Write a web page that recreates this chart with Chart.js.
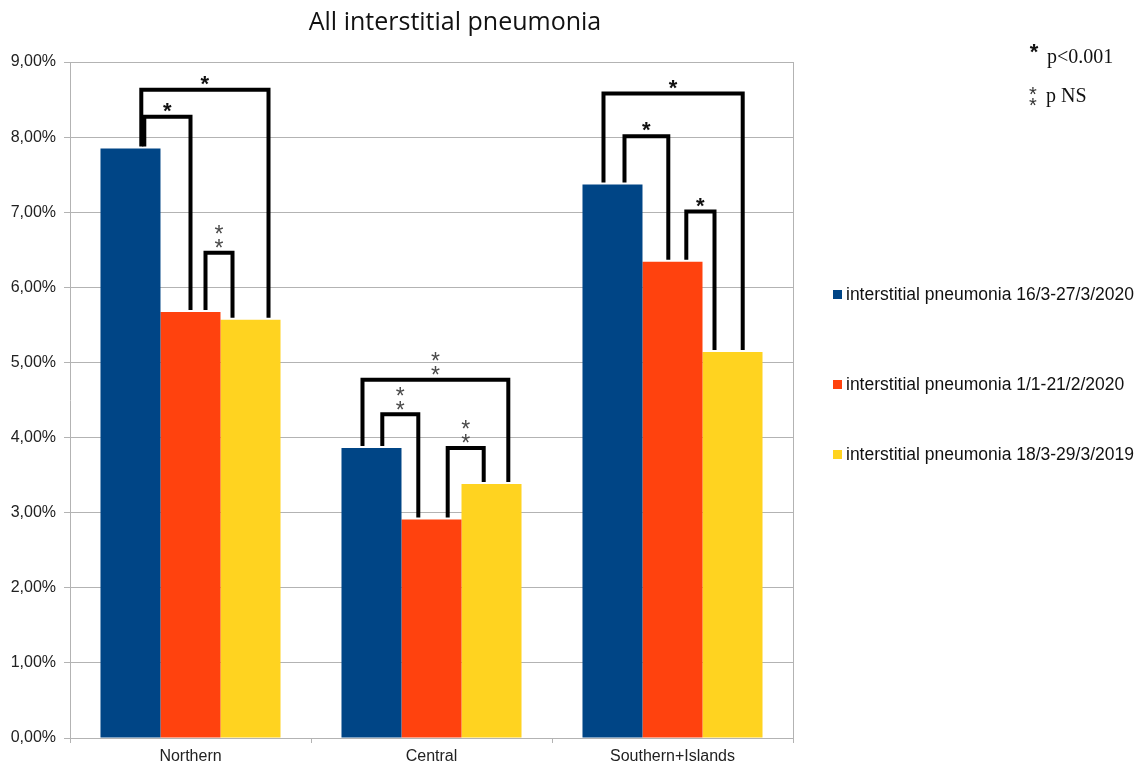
<!DOCTYPE html>
<html>
<head>
<meta charset="utf-8">
<script src="https://cdn.jsdelivr.net/npm/chart.js@4/dist/chart.umd.min.js"></script>
<style>
  body { margin: 0; background: #fff; }
  #wrap { width: 1143px; height: 764px; position: relative; }
</style>
</head>
<body>
<div id="wrap"><canvas id="pneumoniaChart"></canvas></div>
<script>
// chart values (percent)
const regions = ['Northern', 'Central', 'Southern+Islands'];
const march2020 = [7.85, 3.86, 7.37];
const janFeb2020 = [5.67, 2.91, 6.34];
const march2019 = [5.57, 3.38, 5.14];
const seriesNames = [
    'interstitial pneumonia 16/3-27/3/2020',
    'interstitial pneumonia 1/1-21/2/2020',
    'interstitial pneumonia 18/3-29/3/2019'
];
const seriesColors = ['#004586', '#ff420e', '#ffd320'];

// significance brackets: region, from/to series, bracket level (percent), sig
const brackets = [
    { cat: 0, from: 0, to: 2, level: 8.63, sig: 1, a: 0.68, b: 0.80 },
    { cat: 0, from: 0, to: 1, level: 8.27, sig: 1, a: 0.73, b: 0.50 },
    { cat: 0, from: 1, to: 2, level: 6.46, sig: 2, a: 0.75, b: 0.20 },
    { cat: 1, from: 0, to: 2, level: 4.77, sig: 2, a: 0.35, b: 0.78 },
    { cat: 1, from: 0, to: 1, level: 4.31, sig: 2, a: 0.68, b: 0.28 },
    { cat: 1, from: 1, to: 2, level: 3.86, sig: 2, a: 0.77, b: 0.37 },
    { cat: 2, from: 0, to: 2, level: 8.58, sig: 1, a: 0.35, b: 0.67 },
    { cat: 2, from: 0, to: 1, level: 8.01, sig: 1, a: 0.70, b: 0.43 },
    { cat: 2, from: 1, to: 2, level: 7.01, sig: 1, a: 0.73, b: 0.20 }
];

const gridGrey = '#b3b3b3';

function drawStar(ctx, x, y, sig) {
    if (sig === 1) {
        ctx.fillStyle = '#111';
        ctx.font = 'bold 22px "Liberation Sans"';
        ctx.fillText('*', x, y + 5);
    } else {
        ctx.fillStyle = '#4a4a4a';
        ctx.font = '23px "Liberation Sans"';
        ctx.fillText('*', x, y + 7);
        ctx.fillText('*', x, y - 7);
    }
}

// brackets, title, legend and p-value key
const extrasPlugin = {
    id: 'extras',
    afterDatasetsDraw(chart) {
        const ctx = chart.ctx;
        const yScale = chart.scales.y;
        ctx.save();
        ctx.strokeStyle = '#000';
        ctx.lineWidth = 4;
        ctx.lineJoin = 'miter';
        brackets.forEach(br => {
            const barA = chart.getDatasetMeta(br.from).data[br.cat];
            const barB = chart.getDatasetMeta(br.to).data[br.cat];
            const xa = barA.x - barA.width / 2 + br.a * barA.width;
            const xb = barB.x - barB.width / 2 + br.b * barB.width;
            const yTop = yScale.getPixelForValue(br.level);
            ctx.beginPath();
            ctx.moveTo(xa, barA.y - 2);
            ctx.lineTo(xa, yTop);
            ctx.lineTo(xb, yTop);
            ctx.lineTo(xb, barB.y - 2);
            ctx.stroke();
        });
        ctx.textAlign = 'center';
        ctx.textBaseline = 'middle';
        brackets.forEach(br => {
            const barA = chart.getDatasetMeta(br.from).data[br.cat];
            const barB = chart.getDatasetMeta(br.to).data[br.cat];
            const xa = barA.x - barA.width / 2 + br.a * barA.width;
            const xb = barB.x - barB.width / 2 + br.b * barB.width;
            const yTop = yScale.getPixelForValue(br.level);
            drawStar(ctx, (xa + xb) / 2, yTop - 10, br.sig);
        });
        ctx.restore();
    },
    afterDraw(chart) {
        const ctx = chart.ctx;
        ctx.save();
        // title
        ctx.fillStyle = '#111';
        ctx.textAlign = 'center';
        ctx.textBaseline = 'middle';
        ctx.font = '25px "Open Sans"';
        ctx.fillText('All interstitial pneumonia', 455, 23);

        // legend
        const legendY = [295, 385, 455];
        ctx.textAlign = 'left';
        ctx.font = '17.5px "Liberation Sans"';
        seriesNames.forEach((name, i) => {
            ctx.fillStyle = seriesColors[i];
            ctx.fillRect(833, legendY[i] - 5, 9, 9);
            ctx.fillStyle = '#111';
            ctx.fillText(name, 846, legendY[i]);
        });

        // p-value key
        ctx.font = '20px "Liberation Serif"';
        ctx.fillText('p<0.001', 1047, 58);
        ctx.fillText('p NS', 1046, 97);
        ctx.textAlign = 'center';
        ctx.font = 'bold 22px "Liberation Sans"';
        ctx.fillText('*', 1034, 53);
        ctx.fillStyle = '#333';
        ctx.font = '20px "Liberation Sans"';
        ctx.fillText('*', 1033, 95);
        ctx.fillText('*', 1033, 106);
        ctx.restore();
    }
};

const ctx = document.getElementById('pneumoniaChart').getContext('2d');
const pneumoniaChart = new Chart(ctx, {
    type: 'bar',
    data: {
        labels: regions,
        datasets: [march2020, janFeb2020, march2019].map((vals, i) => ({
            label: seriesNames[i],
            data: vals,
            backgroundColor: seriesColors[i],
            borderWidth: 0,
            categoryPercentage: 0.747,
            barPercentage: 1.0
        }))
    },
    options: {
        responsive: true,
        maintainAspectRatio: false,
        animation: false,
        layout: { padding: { top: 62, right: 350, bottom: 0, left: 0 } },
        plugins: {
            legend: { display: false },
            title: { display: false },
            tooltip: { enabled: false }
        },
        scales: {
            x: {
                afterFit(scale) { scale.height = 26; },
                grid: {
                    offset: true,
                    color: c => c.type === 'scale' ? gridGrey : 'rgba(0,0,0,0)',
                    tickColor: gridGrey,
                    tickLength: 5
                },
                border: { color: gridGrey },
                ticks: {
                    color: '#222',
                    padding: 4,
                    font: { family: '"Liberation Sans"', size: 16 }
                }
            },
            y: {
                min: 0,
                max: 9,
                afterFit(scale) { scale.width = 70; },
                grid: { color: gridGrey, tickLength: 6 },
                border: { color: gridGrey },
                ticks: {
                    stepSize: 1,
                    color: '#222',
                    padding: 8,
                    font: { family: '"Liberation Sans"', size: 16 },
                    callback: v => v.toFixed(2).replace('.', ',') + '%'
                }
            }
        }
    },
    plugins: [extrasPlugin]
});
</script>
</body>
</html>
